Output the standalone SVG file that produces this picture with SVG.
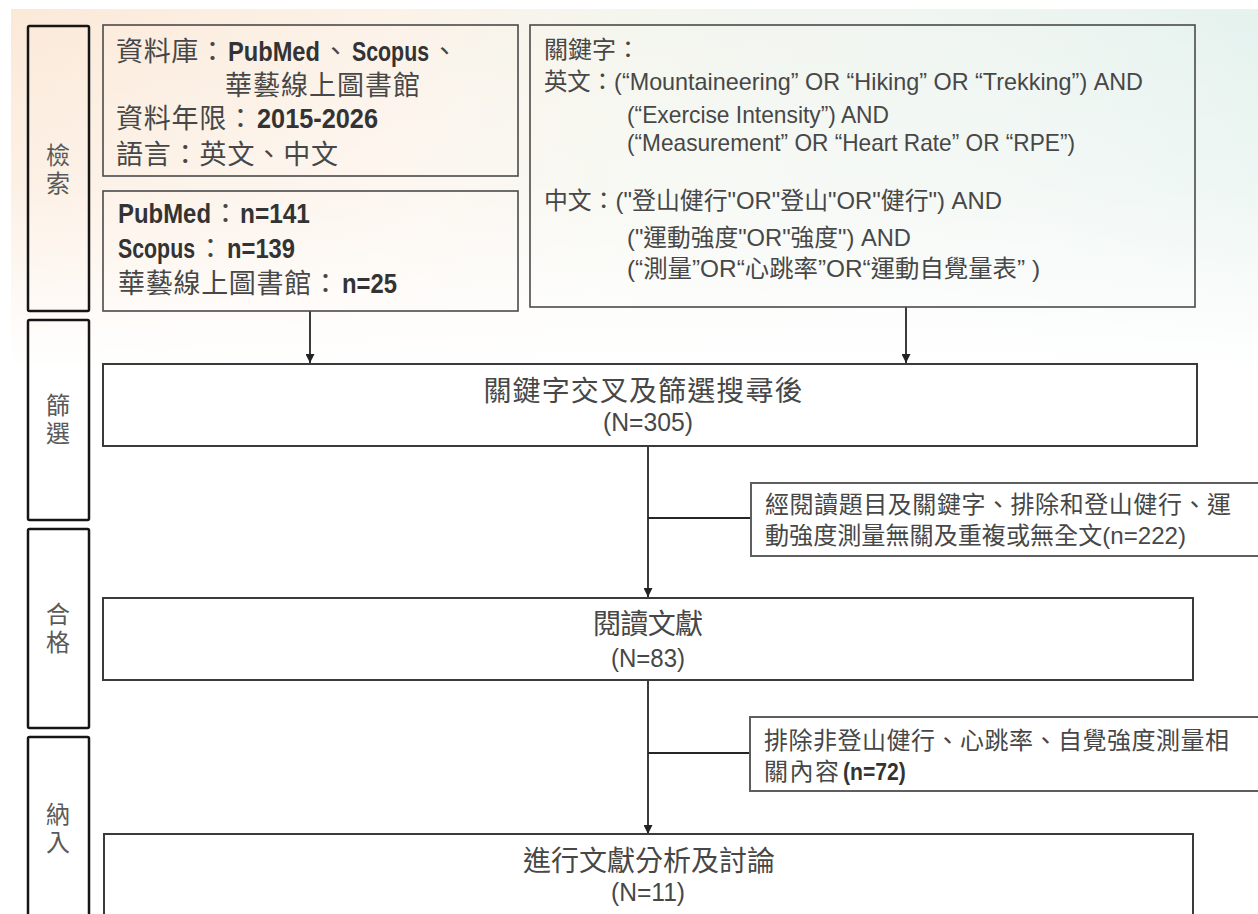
<svg xmlns="http://www.w3.org/2000/svg" width="1258" height="914" viewBox="0 0 1258 914">
<defs>
  <linearGradient id="bgH" x1="0" y1="0" x2="1" y2="0">
    <stop offset="0" stop-color="#fbe9d8"/>
    <stop offset="0.3" stop-color="#fcf2e8"/>
    <stop offset="0.5" stop-color="#f4f6ee"/>
    <stop offset="0.8" stop-color="#eef5f1"/>
    <stop offset="1" stop-color="#e5f2ee"/>
  </linearGradient>
  <linearGradient id="bgV" x1="0" y1="0" x2="0" y2="1">
    <stop offset="0" stop-color="#ffffff" stop-opacity="0"/>
    <stop offset="0.5" stop-color="#ffffff" stop-opacity="0.35"/>
    <stop offset="1" stop-color="#ffffff" stop-opacity="1"/>
  </linearGradient>
  <marker id="arr" viewBox="0 0 10 10" refX="10" refY="5" markerWidth="9" markerHeight="9" markerUnits="userSpaceOnUse" orient="auto">
    <path d="M0,0 L10,5 L0,10 z" fill="#222"/>
  </marker>
</defs>
<style>
  text { font-family: "Liberation Sans", "Noto Sans CJK TC", sans-serif; fill: #474747; }
  .side { fill: none; stroke: #161616; stroke-width: 2.5; }
  .sidet { font-size: 24px; fill: #5a5a5a; text-anchor: middle; }
  .info { fill: none; stroke: #4a4a4a; stroke-width: 1.6; }
  .main { fill: #ffffff; stroke: #3a3a3a; stroke-width: 2; }
  .excl { fill: #ffffff; stroke: #5e5e5e; stroke-width: 2; }
  .t27 { font-size: 27px; }
  .t24 { font-size: 24px; }
  .t28 { font-size: 28px; text-anchor: middle; }
  .n25 { font-size: 25px; text-anchor: middle; }
  .lat { fill: #333333; font-weight: bold; }
  .conn line { stroke: #262626; stroke-width: 1.8; fill: none; }
</style>

<rect x="0" y="0" width="1258" height="914" fill="#ffffff"/>
<rect x="11" y="9" width="1247" height="360" fill="url(#bgH)"/>
<rect x="11" y="9" width="1247" height="360" fill="url(#bgV)"/>

<!-- stage labels -->
<g id="stage-search">
  <rect class="side" x="28" y="26" width="61" height="285" rx="1.5"/>
  <text class="sidet" x="58" y="164">檢</text>
  <text class="sidet" x="58" y="192">索</text>
</g>
<g id="stage-screen">
  <rect class="side" x="28" y="320" width="61" height="200" rx="1.5"/>
  <text class="sidet" x="58" y="414">篩</text>
  <text class="sidet" x="58" y="442">選</text>
</g>
<g id="stage-eligible">
  <rect class="side" x="28" y="529" width="61" height="199" rx="1.5"/>
  <text class="sidet" x="58" y="623">合</text>
  <text class="sidet" x="58" y="651">格</text>
</g>
<g id="stage-include">
  <rect class="side" x="28" y="737" width="61" height="200" rx="1.5"/>
  <text class="sidet" x="58" y="823">納</text>
  <text class="sidet" x="58" y="851">入</text>
</g>

<!-- connectors -->
<g id="connectors" class="conn">
  <line x1="310" y1="311" x2="310" y2="363" marker-end="url(#arr)"/>
  <line x1="906" y1="307" x2="906" y2="363" marker-end="url(#arr)"/>
  <line x1="648" y1="446" x2="648" y2="597" marker-end="url(#arr)"/>
  <line x1="648" y1="518" x2="751" y2="518"/>
  <line x1="648" y1="680" x2="648" y2="834" marker-end="url(#arr)"/>
  <line x1="648" y1="753" x2="750" y2="753"/>
</g>

<!-- database info -->
<g id="db-info">
  <rect class="info" x="103" y="25" width="415" height="151"/>
  <text class="t27" x="116" y="61" textLength="110">資料庫：</text>
  <text class="t27 lat" transform="translate(228,61) scale(0.876,1)">PubMed</text>
  <text class="t27" x="322" y="61">、</text>
  <text class="t27 lat" transform="translate(352,61) scale(0.79,1)">Scopus</text>
  <text class="t27" x="431" y="61">、</text>
  <text class="t27" x="225" y="95" textLength="195">華藝線上圖書館</text>
  <text class="t27" x="116" y="128" textLength="138">資料年限：</text>
  <text class="t27 lat" transform="translate(257,128) scale(0.938,1)">2015-2026</text>
  <text class="t27" x="116" y="164" textLength="222">語言：英文、中文</text>
</g>

<g id="db-counts">
  <rect class="info" x="103" y="191" width="415" height="120"/>
  <text class="t27 lat" transform="translate(118,223) scale(0.886,1)">PubMed</text>
  <text class="t27" x="212" y="223">：</text>
  <text class="t27 lat" transform="translate(240,223) scale(0.905,1)">n=141</text>
  <text class="t27 lat" transform="translate(118,258) scale(0.79,1)">Scopus</text>
  <text class="t27" x="197" y="258">：</text>
  <text class="t27 lat" transform="translate(227,258) scale(0.88,1)">n=139</text>
  <text class="t27" x="118" y="293" textLength="221">華藝線上圖書館：</text>
  <text class="t27 lat" transform="translate(342,293) scale(0.883,1)">n=25</text>
</g>

<g id="keywords">
  <rect class="info" x="530" y="25" width="665" height="282" stroke="#333"/>
  <text class="t24" x="544" y="58">關鍵字：</text>
  <text class="t24" x="544" y="90" textLength="599" lengthAdjust="spacingAndGlyphs">英文：(“Mountaineering” OR “Hiking” OR “Trekking”) AND</text>
  <text class="t24" x="627" y="123" textLength="262" lengthAdjust="spacingAndGlyphs">(“Exercise Intensity”) AND</text>
  <text class="t24" x="627" y="151" textLength="448" lengthAdjust="spacingAndGlyphs">(“Measurement” OR “Heart Rate” OR “RPE”)</text>
  <text class="t24" x="544" y="209" textLength="458" lengthAdjust="spacingAndGlyphs">中文：("登山健行"OR"登山"OR"健行") AND</text>
  <text class="t24" x="627" y="246" textLength="284" lengthAdjust="spacingAndGlyphs">("運動強度"OR"強度") AND</text>
  <text class="t24" x="627" y="277" textLength="413" lengthAdjust="spacingAndGlyphs">(“測量”OR“心跳率”OR“運動自覺量表” )</text>
</g>

<g id="screened">
  <rect class="main" x="103" y="364" width="1094" height="82"/>
  <text class="t28" x="643" y="401" textLength="319">關鍵字交叉及篩選搜尋後</text>
  <text class="n25" x="648" y="431" textLength="90" lengthAdjust="spacingAndGlyphs">(N=305)</text>
</g>

<g id="excluded-1">
  <rect class="excl" x="751" y="483" width="520" height="73"/>
  <text class="t24" x="765" y="513" textLength="466">經閱讀題目及關鍵字、排除和登山健行、運</text>
  <text class="t24" x="765" y="544" textLength="421" lengthAdjust="spacingAndGlyphs">動強度測量無關及重複或無全文(n=222)</text>
</g>

<g id="eligible">
  <rect class="main" x="103" y="598" width="1090" height="82"/>
  <text class="t28" x="648" y="634" textLength="110">閱讀文獻</text>
  <text class="n25" x="648" y="667" textLength="74" lengthAdjust="spacingAndGlyphs">(N=83)</text>
</g>

<g id="excluded-2">
  <rect class="excl" x="750" y="717" width="520" height="74"/>
  <text class="t24" x="764" y="749" textLength="465">排除非登山健行、心跳率、自覺強度測量相</text>
  <text class="t24" x="764" y="780" textLength="75">關內容</text>
  <text class="t24 lat" transform="translate(843,780) scale(0.88,1)">(n=72)</text>
</g>

<g id="included">
  <rect class="main" x="104" y="834" width="1089" height="110"/>
  <text class="t28" x="649" y="871" textLength="252">進行文獻分析及討論</text>
  <text class="n25" x="648" y="901" textLength="74" lengthAdjust="spacingAndGlyphs">(N=11)</text>
</g>
</svg>
